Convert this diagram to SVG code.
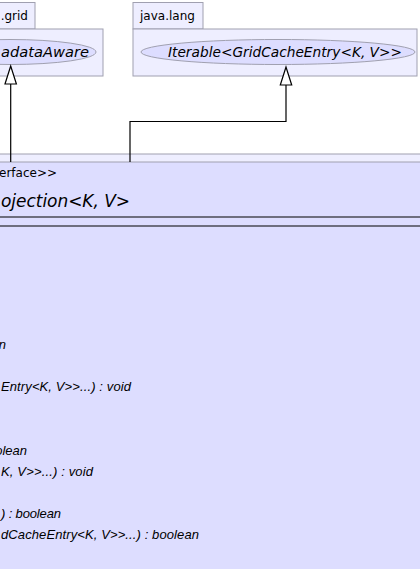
<svg xmlns="http://www.w3.org/2000/svg" width="420" height="569" viewBox="0 0 420 569">
<defs>
<style>
.pkg{fill:#EEEEFF;stroke:#A0A0B0;stroke-width:1}
.ell{fill:#DDDDFF;stroke:#A0A0B0;stroke-width:1}
.cls{fill:#DDDDFF;stroke:#A0A0B0;stroke-width:1}
.sep{stroke:#000;stroke-width:1.2}
.conn{fill:none;stroke:#000;stroke-width:1.2}
.head{fill:#fff;stroke:#000;stroke-width:1.2}
.pt{font-family:"DejaVu Sans",sans-serif;font-size:12px;fill:#000}
.it{font-family:"DejaVu Sans",sans-serif;font-size:14px;font-style:italic;fill:#000}
.nm{font-family:"DejaVu Sans",sans-serif;font-size:17px;font-style:italic;fill:#000}
.st{font-family:"DejaVu Sans",sans-serif;font-size:12px;fill:#000}
.m{font-family:"Liberation Sans",Arial,sans-serif;font-size:13px;font-style:italic;fill:#000}
</style>
</defs>
<rect width="420" height="569" fill="#fff"/>
<g id="pkg-grid">
<rect class="pkg" x="-20" y="2.5" width="55" height="26.5"/>
<rect class="pkg" x="-20" y="29" width="123" height="47"/>
<text class="pt" x="28" y="20" text-anchor="end">.grid</text>
</g>
<g id="GridMetadataAware">
<ellipse class="ell" cx="10" cy="52" rx="86" ry="12.5"/>
<text class="it" x="1" y="57" textLength="88" lengthAdjust="spacingAndGlyphs">adataAware</text>
</g>
<g id="pkg-java-lang">
<rect class="pkg" x="133" y="2.5" width="70" height="26.5"/>
<rect class="pkg" x="133" y="29" width="284" height="47"/>
<text class="pt" x="140" y="20">java.lang</text>
</g>
<g id="Iterable">
<ellipse class="ell" cx="278" cy="52" rx="137" ry="12.5"/>
<text class="it" x="168" y="57" textLength="234" lengthAdjust="spacingAndGlyphs">Iterable&lt;GridCacheEntry&lt;K, V&gt;&gt;</text>
</g>
<g id="pkg-projections">
<rect class="pkg" x="-20" y="154" width="460" height="430"/>
</g>
<g id="GridCacheProjection">
<rect class="cls" x="-20" y="162" width="460" height="420"/>
<text class="st" x="57" y="177" text-anchor="end">erface&gt;&gt;</text>
<text class="nm" x="1" y="207" textLength="129" lengthAdjust="spacing">ojection&lt;K, V&gt;</text>
<line class="sep" x1="-20" y1="217" x2="440" y2="217"/>
<line class="sep" x1="-20" y1="226" x2="440" y2="226"/>
<text class="m" x="6" y="349" text-anchor="end">n</text>
<text class="m" x="1" y="391" textLength="130" lengthAdjust="spacing">Entry&lt;K, V&gt;&gt;...) : void</text>
<text class="m" x="27" y="455" text-anchor="end">olean</text>
<text class="m" x="1" y="476" textLength="92" lengthAdjust="spacing">K, V&gt;&gt;...) : void</text>
<text class="m" x="1" y="518" textLength="60" lengthAdjust="spacing">) : boolean</text>
<text class="m" x="1" y="539" textLength="198" lengthAdjust="spacing">dCacheEntry&lt;K, V&gt;&gt;...) : boolean</text>
</g>
<g id="connectors">
<path class="conn" d="M10.7 84 V162"/>
<polygon class="head" points="10.7,66 5,84 16.4,84"/>
<path class="conn" d="M286 85 V121.5 H130 V162"/>
<polygon class="head" points="286,67 280.3,85 291.7,85"/>
</g>
</svg>
